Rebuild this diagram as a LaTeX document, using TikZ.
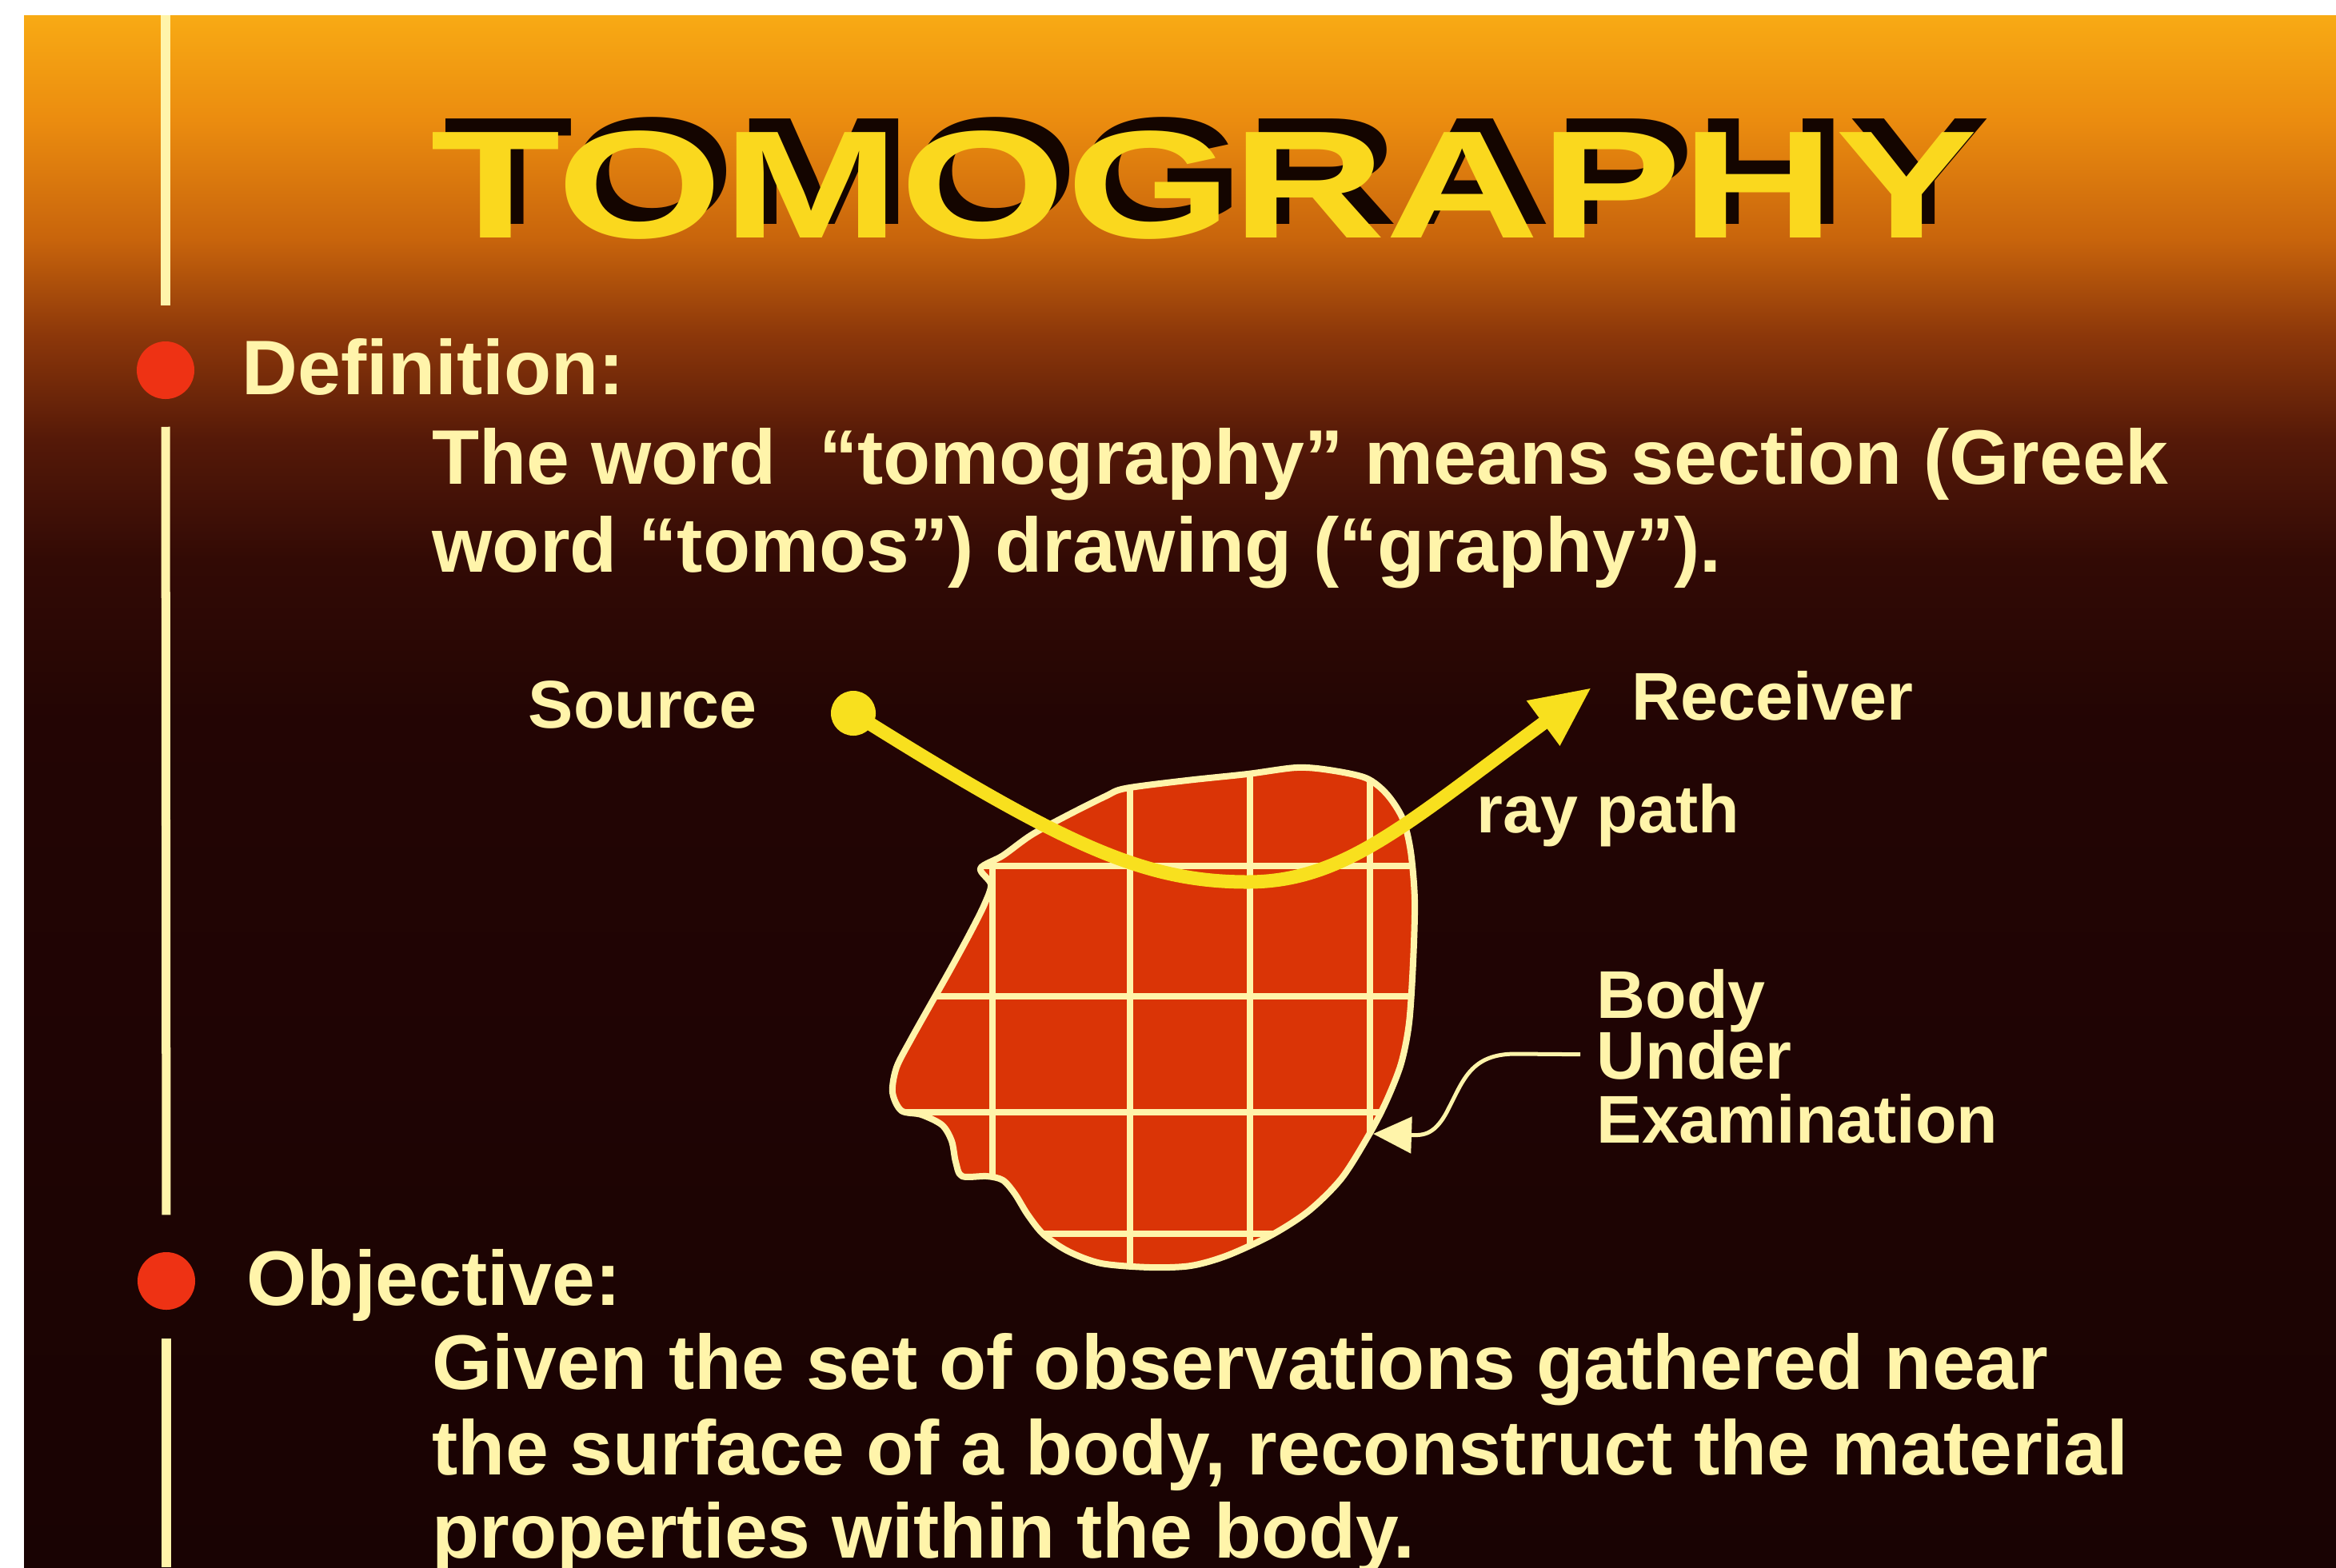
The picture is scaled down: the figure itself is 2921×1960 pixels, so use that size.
\documentclass[tikz,border=0pt]{standalone}
\usepackage{fontspec}
\setmainfont{Liberation Sans}
\usepackage{graphicx}
\usetikzlibrary{arrows.meta}
\usetikzlibrary{positioning}

\definecolor{bgA}{RGB}{248,170,20}
\definecolor{bgB}{RGB}{235,140,15}
\definecolor{bgC}{RGB}{200,100,12}
\definecolor{bgD}{RGB}{140,55,10}
\definecolor{bgE}{RGB}{85,25,8}
\definecolor{bgF}{RGB}{50,10,5}
\definecolor{bgG}{RGB}{35,5,4}
\definecolor{bgH}{RGB}{25,3,3}
\definecolor{titleyellow}{RGB}{250,216,30}
\definecolor{titleshade}{RGB}{20,5,0}
\definecolor{cream}{RGB}{255,244,170}
\definecolor{bulletred}{RGB}{238,50,20}
\definecolor{bodyred}{RGB}{218,52,6}
\definecolor{rayyellow}{RGB}{248,224,30}

\pgfdeclareverticalshading{slidebg}{100bp}{color(0bp)=(bgH); color(25bp)=(bgH);
  color(52.3bp)=(bgG); color(57.46bp)=(bgF); color(61.32bp)=(bgE);
  color(64.67bp)=(bgD); color(67.76bp)=(bgC); color(71.62bp)=(bgB);
  color(75bp)=(bgA); color(100bp)=(bgA)}

\newcommand{\titletext}{\scalebox{1.39}[1]{\fontsize{54.5}{60}\selectfont\bfseries TOMOGRAPHY}}
\newcommand{\bodyshape}{plot[smooth cycle, tension=0.5] coordinates {
  (1226,1086) (1254,1070) (1290,1044) (1336,1019) (1382,996) (1407,986)
  (1484,976) (1560,968) (1621,960) (1662,963) (1708,973) (1734,993)
  (1754,1024) (1764,1065) (1769,1126) (1767,1203) (1762,1279) (1752,1330)
  (1734,1376) (1713,1417) (1678,1473) (1637,1514) (1591,1544) (1535,1570)
  (1489,1583) (1438,1585) (1377,1580) (1336,1565) (1305,1544) (1285,1519)
  (1269,1493) (1254,1476) (1234,1471) (1203,1471) (1195,1453) (1190,1427)
  (1178,1407) (1152,1394) (1127,1389) (1116,1366) (1121,1335) (1139,1300)
  (1162,1259) (1188,1213) (1213,1167) (1231,1131) (1239,1106)}}

\begin{document}
\begin{tikzpicture}[x=0.01cm, y=-0.01cm,
    txt/.style={text=cream, font={\fontsize{27.5}{30}\selectfont\bfseries}, anchor=base west, inner sep=0pt},
    lbl/.style={text=cream, font={\fontsize{24}{26}\selectfont\bfseries}, anchor=base west, inner sep=0pt},
    bullet/.style={circle, fill=bulletred, minimum size=0.72cm, inner sep=0pt},
    rule/.style={draw=cream, line width=0.11cm},
    cellline/.style={draw=cream, line width=0.08cm},
    bodyedge/.style={draw=cream, line width=0.08cm, line join=round},
    raypath/.style={draw=rayyellow, line width=0.17cm, -{Triangle[length=0.75cm,width=0.65cm]}},
    pointer/.style={draw=cream, line width=0.05cm, -{Triangle[length=0.48cm,width=0.45cm]}}]
    \useasboundingbox (0,0) rectangle (2921,1960);
    \fill[white] (0,0) rectangle (2921,1960);
    \shade[shading=slidebg] (30,19) rectangle (2921,1960);

    % title with its shadow
    \node[anchor=base west, inner sep=0pt, text=titleshade] (titleshadow) at (554,280) {\titletext};
    \node[anchor=base west, inner sep=0pt, text=titleyellow] (title) at (538,297) {\titletext};

    % bullets and the rule on the left
    \node[bullet] (defbullet) at (207,463) {};
    \node[bullet] (objbullet) at (208,1602) {};
    \coordinate (ruletop) at (207,19);
    \coordinate (rulebot) at (208,1960);
    \draw[rule, shorten >=0.44cm] (ruletop) -- (defbullet);
    \draw[rule, shorten <=0.34cm, shorten >=0.46cm] (defbullet) -- (objbullet);
    \draw[rule, shorten <=0.35cm] (objbullet) -- (rulebot);

    \node[txt] (deflabel) at (302,493) {Definition:};
    \node[txt] (deflineA) at (540,605) {The word~ “tomography” means section (Greek};
    \node[txt] (deflineB) at (540,715) {word “tomos”) drawing (“graphy”).};

    \node[txt] (objlabel) at (308,1632) {Objective:};
    \node[txt] (objlineA) at (540,1737) {Given the set of observations gathered near};
    \node[txt] (objlineB) at (540,1844) {the surface of a body, reconstruct the material};
    \node[txt] (objlineC) at (540,1948) {properties within the body.};

    % body under examination
    \fill[bodyred] \bodyshape;
    \begin{scope}
        \clip \bodyshape;
        \foreach \gx in {1241,1413,1563,1713}
            \draw[cellline] (\gx,900) -- (\gx,1650);
        \foreach \gy in {1083,1246,1391,1543}
            \draw[cellline] (1080,\gy) -- (1800,\gy);
    \end{scope}
    \draw[bodyedge] \bodyshape;

    % source, receiver and ray
    \node[lbl] (srclabel) at (660,910) {Source};
    \node[circle, fill=rayyellow, minimum size=0.56cm, inner sep=0pt] (srcdot) at (1067,892) {};
    \node[lbl] (rcvlabel) at (2040,900) {Receiver};
    \node[lbl] (raylabel) at (1846,1041) {ray path};
    \coordinate (rcvtip) at (1990,860);
    \draw[raypath] (srcdot.center) .. controls (1330,1057) and (1430,1103) .. (1560,1103)
        .. controls (1680,1103) and (1758,1031) .. (rcvtip);

    \node[lbl] (bodyA) at (1996,1273) {Body};
    \node[lbl] (bodyB) at (1996,1349) {Under};
    \node[lbl] (bodyC) at (1996,1429) {Examination};
    \coordinate (bodyptr) at (1717,1418);
    \draw[pointer, shorten <=0.2cm] (bodyB.west) -- (1895,1318)
        .. controls (1840,1318) and (1830,1350) .. (1812,1385)
        .. controls (1795,1420) and (1780,1420) .. (bodyptr);
\end{tikzpicture}
\end{document}
